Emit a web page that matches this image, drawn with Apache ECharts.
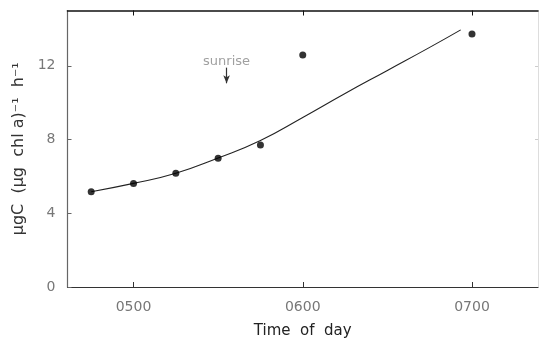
<!DOCTYPE html>
<html>
<head>
<meta charset="utf-8">
<script src="https://cdn.jsdelivr.net/npm/echarts@6/dist/echarts.min.js"></script>
<style>html,body{margin:0;padding:0;background:#fff;}#c{width:540px;height:344px;}</style>
</head>
<body>
<div id="c"></div>
<script>
// time in minutes since midnight
var obsTimes = [285, 300, 315, 330, 345, 360, 420];
var obsValues = [5.17, 5.62, 6.17, 6.98, 7.70, 12.58, 13.72];
var fitTimes = [285, 300, 315, 330, 345, 360, 375, 390, 405, 416];
var fitValues = [5.17, 5.62, 6.17, 7.0, 7.95, 9.2, 10.5, 11.75, 13.0, 13.95];
var xTickValues = [300, 360, 420];
var xTickLabels = ['0500', '0600', '0700'];
var yTickValues = [0, 4, 8, 12];
var sunriseTime = 333;
var sunriseText = 'sunrise';
var sunriseArrow = [11.9, 11.05];
var sunriseLabelY = 12.2;

var chart = echarts.init(document.getElementById('c'));
var font = 'DejaVu Sans';
chart.setOption({
  animation: false,
  backgroundColor: '#fff',
  grid: {left: 67.5, right: 2, top: 10.5, bottom: 57, containLabel: false, outerBoundsMode: 'none'},
  xAxis: [{
    type: 'value', min: 276.6, max: 443.4, position: 'bottom',
    name: 'Time  of  day', nameLocation: 'middle', nameGap: 37,
    nameTextStyle: {fontFamily: font, fontSize: 15, color: '#222'},
    axisLine: {show: true, onZero: false, lineStyle: {color: '#333', width: 1.2}},
    axisTick: {show: true, inside: true, length: 5, customValues: xTickValues, lineStyle: {color: '#333'}},
    axisLabel: {show: true, customValues: xTickValues, margin: 13, fontFamily: font, fontSize: 14, color: '#777',
      formatter: function (v) { var i = xTickValues.indexOf(v); return i >= 0 ? xTickLabels[i] : ''; }},
    splitLine: {show: false}
  }, {
    type: 'value', min: 276.6, max: 443.4, position: 'top',
    axisLine: {show: true, onZero: false, lineStyle: {color: '#111', width: 1.5}},
    axisTick: {show: true, inside: true, length: 5, customValues: xTickValues, lineStyle: {color: '#111'}},
    axisLabel: {show: false},
    splitLine: {show: false}
  }],
  yAxis: [{
    type: 'value', min: 0, max: 15, position: 'left',
    name: 'μgC  (μg  chl a)\u207B\u00B9  h\u207B\u00B9', nameLocation: 'middle', nameGap: 40, nameRotate: 90,
    nameTextStyle: {fontFamily: font, fontSize: 16, color: '#333'},
    axisLine: {show: true, onZero: false, lineStyle: {color: '#666', width: 1.2}},
    axisTick: {show: true, inside: true, length: 4, customValues: yTickValues, lineStyle: {color: '#666'}},
    axisLabel: {show: true, customValues: yTickValues, margin: 12, fontFamily: font, fontSize: 14, color: '#777'},
    splitLine: {show: false}
  }, {
    type: 'value', min: 0, max: 15, position: 'right',
    axisLine: {show: true, onZero: false, lineStyle: {color: '#ddd', width: 1}},
    axisTick: {show: true, inside: true, length: 3, customValues: [8, 12], lineStyle: {color: '#ccc'}},
    axisLabel: {show: false},
    splitLine: {show: false}
  }],
  series: [{
    type: 'line', smooth: 0.5, showSymbol: false, symbol: 'none',
    data: fitTimes.map(function (t, i) { return [t, fitValues[i]]; }),
    lineStyle: {color: '#222', width: 1.1}, z: 2
  }, {
    type: 'scatter', symbol: 'circle', symbolSize: 7,
    data: obsTimes.map(function (t, i) { return [t, obsValues[i]]; }),
    itemStyle: {color: '#000'}, z: 3
  }, {
    type: 'scatter', symbolSize: 0,
    data: [[sunriseTime, sunriseLabelY]],
    label: {show: true, position: 'inside', formatter: sunriseText, fontFamily: font, fontSize: 13, color: '#888'},
    markLine: {
      silent: true, symbol: ['none', 'arrow'], symbolSize: [5, 8],
      lineStyle: {color: '#333', width: 1.2, type: 'solid'},
      label: {show: false},
      data: [[{coord: [sunriseTime, sunriseArrow[0]]}, {coord: [sunriseTime, sunriseArrow[1]]}]]
    }
  }]
});
</script>
</body>
</html>
